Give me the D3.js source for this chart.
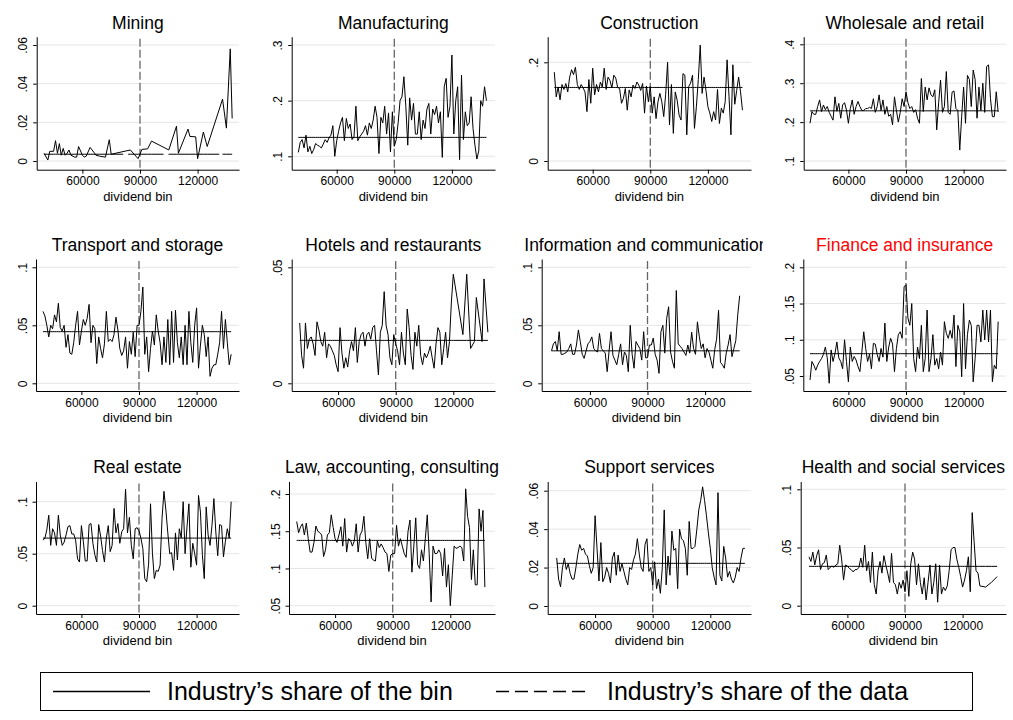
<!DOCTYPE html>
<html>
<head>
<meta charset="utf-8">
<script src="https://cdn.jsdelivr.net/npm/d3@7"></script>
<style>
  body { margin: 0; background: #fff; }
  svg { display: block; font-family: "Liberation Sans", Arial, sans-serif; }
</style>
</head>
<body>
<svg width="1013" height="720"></svg>
<script>
// dividend bins, 1000 wide
const bins = d3.range(40000, 139000, 1000);

const titles = [
  "Mining", "Manufacturing", "Construction", "Wholesale and retail",
  "Transport and storage", "Hotels and restaurants", "Information and communication", "Finance and insurance",
  "Real estate", "Law, accounting, consulting", "Support services", "Health and social services"
];

// industry's share of each bin (null = no firms of that industry in the bin)
const mining = [
  .004, null, .0005, .005, null, .005, .0105, .004, .009, .003,
  .0065, .003, .004, .0057, .003, null, .002, .002, .0075, null,
  .003, .002, .0025, null, .007, null, .0045, .003, null, .0025,
  null, null, .002, null, .011, .0035, null, null, null, null,
  null, null, null, null, null, .0057, null, null, null, .0012,
  null, .006, null, null, .0063, null, .0103, null, null, null,
  null, null, null, null, null, .0057, null, null, null, .018,
  .004, null, null, null, null, .0165, .0127, null, null, .0125,
  .0012, null, null, .015, null, .0075, null, null, null, null,
  null, null, null, .032, null, .017, null, .058, .022
];
const manufacturing = [
  .107, .125, .13, .115, .138, .108, .118, .105, .112, .123,
  .12, .118, .115, .122, .13, .125, .133, .138, .155, .10,
  .128, .145, .16, .17, .128, .168, .15, .158, .13, .135,
  .19, .128, .135, .14, .145, .155, .138, .16, .15, .165,
  .19, .17, .105, .17, .16, .19, .14, .178, .108, .18,
  .118, .13, .16, .2, .207, .243, .19, .12, .205, .165,
  .195, .14, .14, .18, .13, .165, .15, .185, .195, .14,
  .185, .175, .19, .16, .18, .098, .225, .24, .17, .19,
  .282, .14, .2, .225, .094, .246, .13, .18, .155, .16,
  .207, .15, .12, .095, .11, .2, .19, .225, .2
];
const construction = [
  .18, .13, .15, .124, .155, .145, .157, .14, .17, .185,
  .175, .19, .155, .145, .155, .148, .14, .10, .165, .117,
  .188, .134, .155, .14, .16, .15, .188, .145, .17, .163,
  .148, .174, .168, .149, .147, .117, .127, .147, .103, .144,
  .13, .154, .147, .16, .154, .143, .157, .097, .152, .12,
  .151, .097, .13, .086, .12, .137, .12, .09, .135, .2,
  .073, .155, .056, .14, .123, .093, .083, .177, .174, .053,
  .151, .158, .174, .066, .11, .165, .235, .137, .17, .143,
  .11, .097, .08, .10, .083, .145, .076, .107, .097, .12,
  .205, .13, .053, .195, .115, .143, .17, .14, .103
];
const wholesale = [
  .197, .227, .22, .22, .24, .257, .227, .244, .232, .24,
  .225, .215, .205, .265, .228, .248, .21, .244, .25, .231,
  .197, .235, .257, .22, .24, .253, .24, .23, .23, .235,
  .235, .238, .235, .26, .225, .24, .27, .23, .257, .22,
  .24, .215, .22, .193, .265, .23, .2, .225, .26, .24,
  .278, .25, .235, .24, .225, .232, .21, .197, .312, .227,
  .29, .257, .288, .27, .265, .283, .18, .25, .308, .225,
  .24, .33, .225, .22, .277, .28, .235, .23, .128, .215,
  .29, .197, .32, .31, .24, .334, .31, .21, .29, .23,
  .3, .225, .343, .347, .26, .214, .214, .278, .226
];
const transport = [
  .062, .058, .05, .04, .05, .047, .059, .053, .069, .048,
  .045, .05, .031, .042, .026, .025, .035, .05, .062, .033,
  .045, .055, .05, .056, .068, .035, .05, .047, .017, .04,
  .03, .022, .034, .062, .036, .038, .036, .042, .057, .046,
  .03, .024, .028, .04, .013, .036, .025, .044, .023, .05,
  .05, .062, .083, .025, .04, .01, .03, .045, .033, .059,
  .045, .035, .016, .04, .018, .055, .016, .062, .018, .063,
  .035, .022, .04, .016, .05, .016, .062, .035, .018, .05,
  .065, .013, .033, .05, .042, .023, .04, .006, .013, .016,
  .016, .025, .035, .062, .03, .055, .035, .016, .025
];
const hotels = [
  .026, .012, .0065, .026, .015, .019, .02, .017, .012, .0265,
  .023, .018, .016, .022, .011, .017, .016, .014, .012, .008,
  .005, .024, .013, .0065, .011, .007, .014, .018, .014, .024,
  .009, .018, .021, .022, .016, .021, .022, .019, .024, .025,
  .014, .0036, .022, .025, .0395, .025, .021, .011, .008, .021,
  .017, .014, .008, .022, .013, .008, .032, .024, .012, .006,
  .022, .016, .025, .012, .008, .013, .011, .013, .016, .011,
  .0065, .017, .024, .022, .008, .015, .022, .011, .018, .035,
  .047, null, null, null, null, .021, null, .047, null, .015,
  null, .018, .037, null, null, .018, .045, null, .022
];
const information = [
  .028, .034, .036, .028, .0445, .025, .025, .026, .027, .03,
  .034, .025, .025, .033, .046, .036, .025, .0215, .028, .034,
  .036, .04, .03, .028, .027, .043, .03, .028, .026, .01,
  .028, .0445, .024, .02, .016, .025, .034, .016, .027, .024,
  .01, .05, .025, .013, .036, .033, .03, .02, .0445, .022,
  .022, .033, .033, .039, .025, .02, .0086, .0445, .05, .026,
  .056, .066, .027, .019, .013, .08, .034, .032, .03, .027,
  .024, .033, .026, .044, .03, .025, .053, .04, .03, .034,
  .022, .03, .027, .02, .013, .029, .038, .063, .018, .016,
  .013, .026, .033, .042, .023, .03, .037, .059, .0755
];
const finance = [
  .0445, .07, .065, .058, .065, .07, .074, .08, .09, .075,
  .04, .086, .07, .081, .097, .075, .07, .06, .1, .07,
  .042, .09, .07, .077, .072, .063, .056, .083, .111, .088,
  .07, .08, .06, .095, .094, .08, .07, .088, .076, .123,
  .07, .09, .102, .094, .056, .088, .107, .111, .102, .173,
  .176, .13, .12, .15, .074, .056, .09, .074, .12, .056,
  .074, .141, .056, .074, .107, .065, .074, .06, .083, .065,
  .125, .109, .102, .113, .102, .134, .063, .12, .111, .049,
  .15, .06, .107, .127, .12, .042, .074, .12, .12, .097,
  .141, .1, .141, .097, .141, .042, .065, .06, .125
];
const realEstate = [
  .063, .065, .073, .087, .058, .074, .07, .058, .087, .068,
  .058, .061, .068, .076, .077, .069, .069, .063, .045, .042,
  .077, .062, .043, .043, .078, .079, .06, .049, .042, .078,
  .067, .053, .042, .065, .077, .052, .058, .0935, .07, .079,
  .06, .071, .074, .112, .07, .085, .058, .045, .074, .075,
  .072, .065, .055, .026, .023, .04, .098, .05, .026, .034,
  .033, .039, .084, .11, .092, .07, .05, .051, .034, .07,
  .044, .074, .065, .1, .05, .076, .098, .037, .06, .05,
  .039, .106, .09, .049, .026, .095, .068, .058, .077, .103,
  .071, .048, .078, .077, .047, .062, .074, .065, .1
];
const law = [
  .163, .148, .156, .16, .145, .161, .14, .122, .122, .135,
  .157, .15, .148, .145, .116, .125, .145, .148, .172, .155,
  .14, .135, .145, .156, .13, .167, .122, .14, .138, .13,
  .137, .16, .122, .145, .15, .17, .135, .113, .14, .114,
  .111, .11, .137, .128, .133, .128, .122, .12, .096, .118,
  .12, .12, .158, .13, .14, .13, .12, .115, .15, .165,
  .095, .13, .168, .105, .1, .125, .11, .14, .172, .12,
  .055, .13, .12, .12, .125, .12, .09, .127, .075, .105,
  .05, .09, .13, .127, .128, .13, .128, .11, .207, .17,
  .155, .085, .125, .078, .078, .18, .15, .178, .075
];
const support = [
  .025, .014, .01, .02, .025, .019, .022, .017, .014, .014,
  .02, .027, .032, .029, .03, .027, .026, .021, .017, .02,
  .047, .03, .013, .033, .0126, .015, .02, .017, .012, .025,
  .028, .016, .0265, .018, .022, .018, .014, .011, .02, .019,
  .024, .027, .035, .027, .02, .018, .032, .035, .018, .02,
  .011, .023, .009, .014, .0066, .02, .05, .011, .026, .016,
  .039, .029, .03, .009, .04, .035, .034, .03, .016, .044,
  .03, .03, .031, .04, .05, .055, .062, .055, .047, .038,
  .03, .02, .015, .011, .059, .016, .013, .031, .025, .015,
  .018, .014, .012, .015, .02, .018, .025, .03, .03
];
const health = [
  .042, .038, .046, .035, .043, .048, .031, .036, .037, .0435,
  .031, .033, .034, .033, .035, .036, .052, .04, .022, .035,
  .034, .032, .031, .029, .031, .031, .033, .041, .033, .052,
  .03, .038, .02, .046, .018, .01, .03, .038, .028, .043,
  .035, .028, .02, .045, .02, .018, .01, .02, .015, .022,
  .012, .03, .008, .036, .046, .04, .018, .036, .02, .01,
  .024, .005, .02, .035, .01, .02, .036, .003, .035, .01,
  .016, .013, .017, .03, .048, .05, .05, .04, .033, .025,
  .016, .022, .03, .042, .012, .08, .055, .03, .028, .017,
  null, null, .016, null, null, .02, null, null, .025
];

const series = [mining, manufacturing, construction, wholesale, transport, hotels,
  information, finance, realEstate, law, support, health];

// industry's share of the whole data (dashed reference)
const shareOfData = [.0035, .134, .149, .229, .0445, .0185, .028, .0808, .065, .1377, .0222, .0338];

const yTicks = [
  [0, .02, .04, .06], [.1, .2, .3], [0, .2], [.1, .2, .3, .4],
  [0, .05, .1], [0, .05], [0, .05, .1], [.05, .1, .15, .2],
  [0, .05, .1], [.05, .1, .15, .2], [0, .02, .04, .06], [0, .05, .1]
];
const xTicks = [60000, 90000, 120000];
const cutoff = 90000;
const legendLabels = ["Industry\u2019s share of the bin", "Industry\u2019s share of the data"];

// ---- layout (pixels) ----
const axisLeft = [36.7, 291.7, 547.7, 803.7, 36, 291.7, 541.7, 803.3, 36, 289, 547.7, 800.7];
const x90 = [140, 394.3, 650.3, 906, 139, 395.7, 647.5, 906, 139, 392.7, 652.7, 905];
const yCal = [ // [value1, px1, value2, px2]
  [0, 161, .06, 45], [.1, 156.3, .3, 45], [0, 161, .2, 62.3], [.1, 161, .4, 44.3],
  [0, 383.3, .1, 267.3], [0, 383.3, .05, 267.3], [0, 383.3, .1, 267.3], [.05, 376, .2, 267.3],
  [0, 605.7, .1, 501.7], [.05, 605.7, .2, 494], [0, 606, .06, 490.7], [0, 605.7, .1, 489.3]
];
const colRight = [239, 495, 751, 1006];
const cellX = [[0, 254], [254, 508], [508, 763], [763, 1013]];
const rowTop = [36.7, 259, 481.5];
const rowAxis = [169.7, 391, 614];
const rowTitle = [28.5, 251, 473];
const pxPer1000 = 1.92;

const svg = d3.select("svg");
const defs = svg.append("defs");
const fmt = v => v === 0 ? "0" : String(v).replace(/^0\./, ".");

titles.forEach((title, k) => {
  const c = k % 4, r = Math.floor(k / 4);
  const left = axisLeft[k], right = colRight[c];
  const top = rowTop[r], bottom = rowAxis[r];

  defs.append("clipPath").attr("id", "cell" + k)
    .append("rect")
    .attr("x", cellX[c][0]).attr("y", top - 40)
    .attr("width", cellX[c][1] - cellX[c][0]).attr("height", 230);

  const g = svg.append("g").attr("clip-path", `url(#cell${k})`);

  const xb = d3.scaleLinear().domain([40000, 138000])
    .range([x90[k] - 50 * pxPer1000, x90[k] + 48 * pxPer1000]);
  const x = d3.scaleLinear().domain([xb.invert(left), xb.invert(right)]).range([left, right]);

  const cal = yCal[k];
  const yb = d3.scaleLinear().domain([cal[0], cal[2]]).range([cal[1], cal[3]]);
  const y = d3.scaleLinear().domain([yb.invert(bottom), yb.invert(top)]).range([bottom, top]);

  // gridlines
  g.selectAll(".grid").data(yTicks[k]).enter().append("line")
    .attr("x1", left).attr("x2", right)
    .attr("y1", d => y(d)).attr("y2", d => y(d))
    .attr("stroke", "#e6e6e6").attr("stroke-width", 1);

  // cutoff line
  g.append("line")
    .attr("x1", x(cutoff)).attr("x2", x(cutoff))
    .attr("y1", top + 2).attr("y2", bottom)
    .attr("stroke", "#666").attr("stroke-width", 1.3)
    .attr("stroke-dasharray", "8,3");

  const pts = bins.map((b, i) => ({ b, v: series[k][i] })).filter(d => d.v != null);

  // dashed reference, pattern restarts at every point like Stata does
  const segs = d3.pairs(pts);
  g.selectAll(".ref").data(segs).enter().append("line")
    .attr("x1", d => x(d[0].b)).attr("x2", d => x(d[1].b))
    .attr("y1", y(shareOfData[k])).attr("y2", y(shareOfData[k]))
    .attr("stroke", "#000").attr("stroke-width", 1)
    .attr("stroke-dasharray", "12,5");

  // share of the bin
  g.append("path").datum(pts)
    .attr("d", d3.line().x(d => x(d.b)).y(d => y(d.v)))
    .attr("fill", "none").attr("stroke", "#000").attr("stroke-width", 1)
    .attr("stroke-linejoin", "round");

  // y axis
  const ya = g.append("g").attr("transform", `translate(${left},0)`)
    .call(d3.axisLeft(y).tickValues(yTicks[k]).tickFormat(fmt).tickSize(3.5).tickSizeOuter(0));
  ya.selectAll("text")
    .attr("transform", "rotate(-90)")
    .attr("x", 0).attr("y", -9.5).attr("dy", null)
    .attr("text-anchor", "middle")
    .attr("font-size", 12).attr("font-family", null).attr("fill", "#000");

  // x axis
  const xa = g.append("g").attr("transform", `translate(0,${bottom})`)
    .call(d3.axisBottom(x).tickValues(xTicks).tickFormat(d3.format("d")).tickSize(4).tickSizeOuter(0));
  xa.selectAll("text").attr("font-size", 12).attr("font-family", null).attr("fill", "#000");
  g.selectAll(".domain, .tick line").attr("stroke", "#000");

  g.append("text")
    .attr("x", (left + right) / 2).attr("y", bottom + 31)
    .attr("text-anchor", "middle").attr("font-size", 13)
    .text("dividend bin");

  g.append("text")
    .attr("x", (left + right) / 2).attr("y", rowTitle[r])
    .attr("text-anchor", "middle").attr("font-size", 17.5)
    .attr("fill", k === 7 ? "#ff0000" : "#000")
    .text(title);
});

// legend
const lg = svg.append("g");
lg.append("rect").attr("x", 40.5).attr("y", 672.5).attr("width", 932).attr("height", 38)
  .attr("fill", "#fff").attr("stroke", "#000").attr("stroke-width", 1);
const legendX = [[53, 150, 167], [496, 591, 607]];
legendLabels.forEach((lab, i) => {
  lg.append("line")
    .attr("x1", legendX[i][0]).attr("x2", legendX[i][1])
    .attr("y1", 691.5).attr("y2", 691.5)
    .attr("stroke", "#000").attr("stroke-width", 1.5)
    .attr("stroke-dasharray", i === 1 ? "13,6" : null);
  lg.append("text")
    .attr("x", legendX[i][2]).attr("y", 700)
    .attr("font-size", 25)
    .text(lab);
});
</script>
</body>
</html>
